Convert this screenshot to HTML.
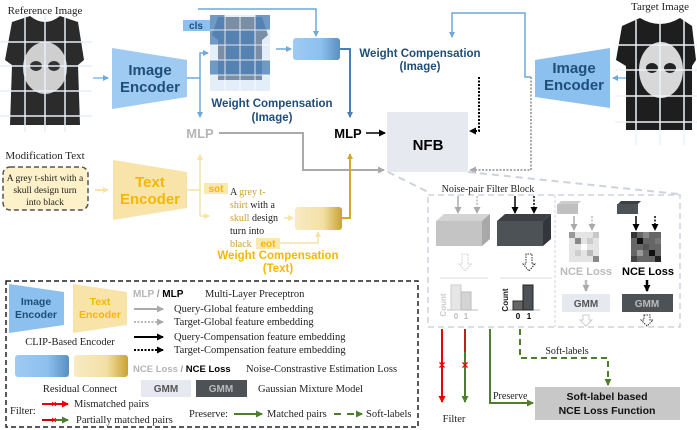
<!DOCTYPE html>
<html><head><meta charset="utf-8"><style>
html,body{margin:0;padding:0;background:#fff}
svg{display:block}
.s{font-family:"Liberation Serif",serif}
.b{font-family:"Liberation Sans",sans-serif;font-weight:bold}
</style></head><body>
<svg width="697" height="430" viewBox="0 0 697 430" xmlns="http://www.w3.org/2000/svg">
<defs>
<marker id="ab" markerWidth="6" markerHeight="6" refX="5" refY="3" orient="auto" markerUnits="userSpaceOnUse"><path d="M0,0L6,3L0,6z" fill="#6fa8dc"/></marker>
<marker id="adb" markerWidth="6" markerHeight="6" refX="5" refY="3" orient="auto" markerUnits="userSpaceOnUse"><path d="M0,0L6,3L0,6z" fill="#4a7fb5"/></marker>
<marker id="ak" markerWidth="7" markerHeight="7" refX="6" refY="3.5" orient="auto" markerUnits="userSpaceOnUse"><path d="M0,0L7,3.5L0,7z" fill="#000"/></marker>
<marker id="ag" markerWidth="7" markerHeight="7" refX="6" refY="3.5" orient="auto" markerUnits="userSpaceOnUse"><path d="M0,0L7,3.5L0,7z" fill="#aaa"/></marker>
<marker id="ay" markerWidth="6" markerHeight="6" refX="5" refY="3" orient="auto" markerUnits="userSpaceOnUse"><path d="M0,0L6,3L0,6z" fill="#f6e3a6"/></marker>
<marker id="ao" markerWidth="6" markerHeight="6" refX="5" refY="3" orient="auto" markerUnits="userSpaceOnUse"><path d="M0,0L6,3L0,6z" fill="#d4a82a"/></marker>
<marker id="ar" markerWidth="7" markerHeight="7" refX="6" refY="3.5" orient="auto" markerUnits="userSpaceOnUse"><path d="M0,0L7,3.5L0,7z" fill="#e00"/></marker>
<marker id="agr" markerWidth="7" markerHeight="7" refX="6" refY="3.5" orient="auto" markerUnits="userSpaceOnUse"><path d="M0,0L7,3.5L0,7z" fill="#4e7d2e"/></marker>
<linearGradient id="gb" x1="0" x2="1"><stop offset="0" stop-color="#9fcbf2"/><stop offset=".6" stop-color="#8cc0ee"/><stop offset="1" stop-color="#5a8fc0"/></linearGradient>
<linearGradient id="gy" x1="0" x2="1"><stop offset="0" stop-color="#f8ebc3"/><stop offset=".6" stop-color="#f3e0a4"/><stop offset="1" stop-color="#c9a232"/></linearGradient>
</defs>

<text x="45" y="14" class="s" font-size="11" text-anchor="middle" fill="#222">Reference Image</text>
<path d="M12,22 L30,16 Q45,28 60,16 L78,22 L84,60 L78,65 L80,125 L10,125 L12,65 L5,60z" fill="#2b2b2b"/>
<ellipse cx="45" cy="68" rx="22" ry="26" fill="#cfcfcf"/>
<ellipse cx="36" cy="66" rx="6" ry="5" fill="#333"/><ellipse cx="54" cy="66" rx="6" ry="5" fill="#333"/>
<g stroke="#e8eef8" stroke-width="1.5">
<line x1="0" y1="42" x2="92" y2="42"/><line x1="0" y1="66" x2="92" y2="66"/><line x1="0" y1="91" x2="92" y2="91"/><line x1="0" y1="116" x2="92" y2="116"/>
<line x1="25" y1="15" x2="25" y2="132"/><line x1="45" y1="15" x2="45" y2="132"/><line x1="65" y1="15" x2="65" y2="132"/>
</g>
<line x1="93" y1="78" x2="108" y2="78" stroke="#9fcbf2" stroke-width="2" marker-end="url(#ab)"/>
<path d="M112,48 L187,60 L187,97 L112,109z" fill="#9fcbf2"/>
<text x="150" y="75" class="b" font-size="15" fill="#1f4e79" text-anchor="middle">Image</text>
<text x="150" y="92" class="b" font-size="15" fill="#1f4e79" text-anchor="middle">Encoder</text>

<path d="M187,78 L200,78" stroke="#6fa8dc" stroke-width="1.5" fill="none"/>
<path d="M200,78 L200,53 L208,53" stroke="#6fa8dc" stroke-width="1.5" fill="none" marker-end="url(#ab)"/>
<path d="M200,78 L200,117" stroke="#6fa8dc" stroke-width="1.5" fill="none" marker-end="url(#ab)"/>
<path d="M198,9 L316,9 L316,36" stroke="#6fa8dc" stroke-width="1.5" fill="none" marker-end="url(#ab)"/>

<rect x="210" y="15" width="60" height="76" fill="#e4eef9"/>
<path d="M218,17 L262,17 L268,35 L262,40 L262,80 L218,80 L218,40 L212,35z" fill="#7a8ea6"/>
<g fill="#4a7fb5" opacity=".75">
<rect x="210" y="15" width="15" height="15"/><rect x="255" y="15" width="15" height="15"/>
<rect x="210" y="30" width="15" height="15"/><rect x="225" y="30" width="30" height="15"/>
<rect x="225" y="45" width="30" height="15"/><rect x="210" y="60" width="60" height="15"/>
</g>
<g stroke="#fff" stroke-width="1" opacity=".8">
<line x1="225" y1="15" x2="225" y2="91"/><line x1="240" y1="15" x2="240" y2="91"/><line x1="255" y1="15" x2="255" y2="91"/>
<line x1="210" y1="30" x2="270" y2="30"/><line x1="210" y1="45" x2="270" y2="45"/><line x1="210" y1="60" x2="270" y2="60"/><line x1="210" y1="75" x2="270" y2="75"/>
</g>
<rect x="183" y="20" width="27" height="11" fill="#8cc0ee"/>
<text x="196" y="29" class="b" font-size="10" fill="#1f4e79" text-anchor="middle">cls</text>
<line x1="276" y1="49" x2="291" y2="49" stroke="#6fa8dc" stroke-width="1.5" marker-end="url(#ab)"/>
<rect x="293" y="38" width="47" height="22" rx="3" fill="url(#gb)"/>
<path d="M340,49 L350,49 L350,117" stroke="#4a7fb5" stroke-width="2" fill="none" marker-end="url(#adb)"/>
<text x="272" y="107" class="b" font-size="11.5" fill="#1f4e79" text-anchor="middle">Weight Compensation</text>
<text x="272" y="121" class="b" font-size="11.5" fill="#1f4e79" text-anchor="middle">(Image)</text>

<text x="200" y="138" class="b" font-size="13" fill="#b5b5b5" text-anchor="middle">MLP</text>
<text x="348" y="138" class="b" font-size="13" fill="#000" text-anchor="middle">MLP</text>
<path d="M219,133 L303,133 L303,170 L384,170" stroke="#aaa" stroke-width="2" fill="none" marker-end="url(#ag)"/>
<line x1="366" y1="133" x2="385" y2="133" stroke="#000" stroke-width="1.5" marker-end="url(#ak)"/>
<rect x="387" y="112" width="81" height="60" fill="#e6e9ef"/>
<text x="428" y="150" class="b" font-size="15" fill="#000" text-anchor="middle">NFB</text>
<path d="M479,77 L479,131 L470,131" stroke="#000" stroke-width="2" stroke-dasharray="2,1.5" fill="none" marker-end="url(#ak)"/>
<path d="M531,77 L531,170 L470,170" stroke="#aaa" stroke-width="2" stroke-dasharray="2,1.5" fill="none" marker-end="url(#ag)"/>
<path d="M531,77 L525,77 L525,13 L452,13 L452,37" stroke="#6fa8dc" stroke-width="1.5" fill="none" marker-end="url(#ab)"/>
<text x="420" y="57" class="b" font-size="11.5" fill="#1f4e79" text-anchor="middle">Weight Compensation</text>
<text x="420" y="70" class="b" font-size="11.5" fill="#1f4e79" text-anchor="middle">(Image)</text>

<path d="M535,60 L610,48 L610,108 L535,97z" fill="#8cc0ee"/>
<text x="574" y="73" class="b" font-size="15" fill="#1f4e79" text-anchor="middle">Image</text>
<text x="574" y="90" class="b" font-size="15" fill="#1f4e79" text-anchor="middle">Encoder</text>
<line x1="627" y1="78" x2="613" y2="78" stroke="#9fcbf2" stroke-width="2" marker-end="url(#ab)"/>
<text x="660" y="10" class="s" font-size="11" text-anchor="middle" fill="#222">Target Image</text>
<path d="M622,26 L640,18 Q660,30 680,18 L692,26 L696,60 L692,66 L692,130 L626,130 L626,66 L616,60z" fill="#1e1e1e"/>
<ellipse cx="661" cy="70" rx="22" ry="28" fill="#d8d8d8"/>
<ellipse cx="652" cy="68" rx="6" ry="5" fill="#222"/><ellipse cx="670" cy="68" rx="6" ry="5" fill="#222"/>
<g stroke="#eef2f8" stroke-width="1.5">
<line x1="615" y1="45" x2="697" y2="45"/><line x1="615" y1="70" x2="697" y2="70"/><line x1="615" y1="96" x2="697" y2="96"/><line x1="615" y1="122" x2="697" y2="122"/>
<line x1="636" y1="20" x2="636" y2="145"/><line x1="660" y1="20" x2="660" y2="145"/><line x1="684" y1="20" x2="684" y2="145"/>
</g>

<text x="45" y="159" class="s" font-size="11" text-anchor="middle" fill="#222">Modification Text</text>
<rect x="3" y="167" width="85" height="43" rx="7" fill="#fdf1c9" stroke="#555" stroke-width="1.5" stroke-dasharray="5,3"/>
<text class="s" font-size="9.5" fill="#222" text-anchor="middle"><tspan x="45" y="181">A grey t-shirt with a</tspan><tspan x="45" y="193">skull design turn</tspan><tspan x="45" y="205">into black</tspan></text>
<line x1="95" y1="190" x2="108" y2="190" stroke="#f6e3a6" stroke-width="2" marker-end="url(#ay)"/>
<path d="M113,160 L187,172 L187,208 L113,220z" fill="#f8e4a8"/>
<text x="150" y="187" class="b" font-size="15" fill="#f5b800" text-anchor="middle">Text</text>
<text x="150" y="204" class="b" font-size="15" fill="#f5b800" text-anchor="middle">Encoder</text>
<path d="M187,190 L200,190" stroke="#f6e3a6" stroke-width="1.5" fill="none"/>
<path d="M200,216 L200,155" stroke="#f6e3a6" stroke-width="1.5" fill="none" marker-end="url(#ay)"/>
<path d="M200,216 L209,216" stroke="#f6e3a6" stroke-width="1.5" fill="none" marker-end="url(#ay)"/>
<rect x="204" y="183" width="24" height="11" fill="#fbe8b0"/>
<text x="216" y="192" class="b" font-size="10" fill="#f5b800" text-anchor="middle">sot</text>
<text class="s" font-size="10" fill="#222"><tspan x="230" y="195">A <tspan fill="#c9a232">grey t-</tspan></tspan><tspan x="230" y="208"><tspan fill="#c9a232">shirt</tspan> with a</tspan><tspan x="230" y="221"><tspan fill="#c9a232">skull</tspan> design</tspan><tspan x="230" y="234">turn into</tspan><tspan x="230" y="247" fill="#c9a232">black</tspan></text>
<rect x="256" y="238" width="24" height="11" fill="#fbe8b0"/>
<text x="268" y="247" class="b" font-size="10" fill="#f5b800" text-anchor="middle">eot</text>
<line x1="284" y1="218" x2="293" y2="218" stroke="#f6e3a6" stroke-width="1.5" marker-end="url(#ay)"/>
<path d="M280,243 L318,243 L318,232" stroke="#f6e3a6" stroke-width="1.5" fill="none" marker-end="url(#ay)"/>
<rect x="295" y="207" width="47" height="23" rx="3" fill="url(#gy)"/>
<path d="M342,218 L350,218 L350,154" stroke="#d4a82a" stroke-width="2" fill="none" marker-end="url(#ao)"/>
<text x="278" y="259" class="b" font-size="11.5" fill="#f5b800" text-anchor="middle">Weight Compensation</text>
<text x="278" y="272" class="b" font-size="11.5" fill="#f5b800" text-anchor="middle">(Text)</text>

<rect x="6" y="281" width="412" height="146" fill="none" stroke="#222" stroke-width="1.5" stroke-dasharray="5,3"/>
<path d="M9,284 L64,292 L64,325 L9,333z" fill="#8cc0ee"/>
<text x="36" y="305" class="b" font-size="10.5" fill="#1f4e79" text-anchor="middle">Image</text>
<text x="36" y="318" class="b" font-size="10.5" fill="#1f4e79" text-anchor="middle">Encoder</text>
<path d="M73,284 L127,292 L127,325 L73,333z" fill="#f8e4a8"/>
<text x="100" y="305" class="b" font-size="10.5" fill="#f5b800" text-anchor="middle">Text</text>
<text x="100" y="318" class="b" font-size="10.5" fill="#f5b800" text-anchor="middle">Encoder</text>
<text x="70" y="345" class="s" font-size="10.5" fill="#222" text-anchor="middle">CLIP-Based Encoder</text>
<rect x="15" y="355" width="54" height="22" rx="3" fill="url(#gb)"/>
<rect x="74" y="355" width="54" height="22" rx="3" fill="url(#gy)"/>
<text x="80" y="392" class="s" font-size="10.5" fill="#222" text-anchor="middle">Residual Connect</text>
<text x="133" y="297" class="b" font-size="10" fill="#b5b5b5">MLP <tspan fill="#999">/</tspan> <tspan fill="#000">MLP</tspan></text>
<text x="205" y="297" class="s" font-size="10.5" fill="#222">Multi-Layer Preceptron</text>
<line x1="134" y1="309" x2="163" y2="309" stroke="#aaa" stroke-width="2" marker-end="url(#ag)"/>
<line x1="134" y1="322" x2="163" y2="322" stroke="#bbb" stroke-width="2" stroke-dasharray="2,1.5" marker-end="url(#ag)"/>
<line x1="134" y1="337" x2="163" y2="337" stroke="#000" stroke-width="2" marker-end="url(#ak)"/>
<line x1="134" y1="350" x2="163" y2="350" stroke="#000" stroke-width="2" stroke-dasharray="2,1.5" marker-end="url(#ak)"/>
<text class="s" font-size="10.5" fill="#222"><tspan x="174" y="312">Query-Global feature embedding</tspan><tspan x="174" y="325">Target-Global feature embedding</tspan><tspan x="174" y="340">Query-Compensation feature embedding</tspan><tspan x="174" y="353">Target-Compensation feature embedding</tspan></text>
<text x="133" y="372" class="b" font-size="9.5" fill="#b5b5b5">NCE Loss <tspan fill="#999">/</tspan> <tspan fill="#000">NCE Loss</tspan></text>
<text x="246" y="372" class="s" font-size="10.5" fill="#222">Noise-Constrastive Estimation Loss</text>
<rect x="141" y="380" width="50" height="17" fill="#e6e9ef"/>
<text x="166" y="392" class="b" font-size="10" fill="#555" text-anchor="middle">GMM</text>
<rect x="196" y="380" width="51" height="17" fill="#4d5257"/>
<text x="221" y="392" class="b" font-size="10" fill="#bbb" text-anchor="middle">GMM</text>
<text x="258" y="392" class="s" font-size="10.5" fill="#222">Gaussian Mixture Model</text>
<text x="10" y="414" class="s" font-size="10.5" fill="#222">Filter:</text>
<line x1="42" y1="404" x2="68" y2="404" stroke="#e00" stroke-width="2" marker-end="url(#ar)"/>
<text x="54" y="407" font-size="9" fill="#e00" text-anchor="middle" class="b">×</text>
<text x="74" y="407" class="s" font-size="10.5" fill="#222">Mismatched pairs</text>
<line x1="42" y1="420" x2="55" y2="420" stroke="#c00" stroke-width="2"/>
<line x1="55" y1="420" x2="68" y2="420" stroke="#4e7d2e" stroke-width="2" marker-end="url(#agr)"/>
<text x="54" y="423" font-size="9" fill="#e00" text-anchor="middle" class="b">×</text>
<text x="76" y="423" class="s" font-size="10.5" fill="#222">Partially matched pairs</text>
<text x="189" y="417" class="s" font-size="10.5" fill="#222">Preserve:</text>
<line x1="234" y1="414" x2="262" y2="414" stroke="#4e7d2e" stroke-width="2" marker-end="url(#agr)"/>
<text x="267" y="417" class="s" font-size="10.5" fill="#222">Matched pairs</text>
<line x1="334" y1="414" x2="362" y2="414" stroke="#4e7d2e" stroke-width="2" stroke-dasharray="7,6" marker-end="url(#agr)"/>
<text x="366" y="417" class="s" font-size="10.5" fill="#222">Soft-labels</text>

<line x1="388" y1="172" x2="430" y2="193" stroke="#cdd3dd" stroke-width="2" stroke-dasharray="7,5"/>
<line x1="468" y1="172" x2="678" y2="194" stroke="#cdd3dd" stroke-width="2" stroke-dasharray="7,5"/>
<rect x="428" y="195" width="252" height="132" fill="none" stroke="#cdd3dd" stroke-width="1.5" stroke-dasharray="6,4"/>
<line x1="555" y1="195" x2="555" y2="327" stroke="#cdd3dd" stroke-width="1" stroke-dasharray="3,2"/>
<text x="488" y="192" class="s" font-size="10" fill="#222" text-anchor="middle">Noise-pair Filter Block</text>
<path d="M436,221 L482,221 L490,214 L444,214z" fill="#d4d4d4"/><rect x="436" y="221" width="46" height="25" fill="#c4c4c4"/><path d="M482,221 L490,214 L490,239 L482,246z" fill="#a8a8a8"/>
<path d="M497,221 L543,221 L551,214 L505,214z" fill="#3c4044"/><rect x="497" y="221" width="46" height="25" fill="#4d5257"/><path d="M543,221 L551,214 L551,239 L543,246z" fill="#33373b"/>
<line x1="458" y1="196" x2="458" y2="213" stroke="#aaa" stroke-width="1.5" marker-end="url(#ag)"/>
<line x1="477" y1="196" x2="477" y2="213" stroke="#bbb" stroke-width="1.5" stroke-dasharray="2,1.5" marker-end="url(#ag)"/>
<line x1="515" y1="196" x2="515" y2="213" stroke="#000" stroke-width="1.5" marker-end="url(#ak)"/>
<line x1="534" y1="196" x2="534" y2="213" stroke="#000" stroke-width="1.5" stroke-dasharray="2,1.5" marker-end="url(#ak)"/>
<path d="M462,254 L462,264 L459,264 L465,271 L471,264 L468,264 L468,254z" fill="#fff" stroke="#ccc" stroke-dasharray="1.5,1"/>
<path d="M526,254 L526,264 L523,264 L529,271 L535,264 L532,264 L532,254z" fill="#fff" stroke="#333" stroke-dasharray="1.5,1"/>
<line x1="440" y1="278" x2="488" y2="278" stroke="#ddd"/><line x1="500" y1="278" x2="552" y2="278" stroke="#ddd"/>
<line x1="447" y1="310" x2="478" y2="310" stroke="#bbb"/><line x1="505" y1="310" x2="540" y2="310" stroke="#bbb"/>
<rect x="451" y="285" width="10" height="25" fill="#e6e6e6" stroke="#ccc"/><rect x="461" y="292" width="10" height="18" fill="#d4d4d4" stroke="#bbb"/>
<rect x="513" y="301" width="10" height="9" fill="#666" stroke="#333"/><rect x="523" y="285" width="10" height="25" fill="#4d5257" stroke="#222"/>
<text x="446" y="305" class="b" font-size="8" fill="#ccc" transform="rotate(-90 446 305)" text-anchor="middle">Count</text>
<text x="508" y="300" class="b" font-size="8" fill="#222" transform="rotate(-90 508 300)" text-anchor="middle">Count</text>
<text x="456" y="319" class="b" font-size="8" fill="#bbb" text-anchor="middle">0</text><text x="466" y="319" class="b" font-size="8" fill="#bbb" text-anchor="middle">1</text>
<text x="518" y="319" class="b" font-size="8" fill="#000" text-anchor="middle">0</text><text x="529" y="319" class="b" font-size="8" fill="#000" text-anchor="middle">1</text>
<path d="M558,204 L578,204 L581,201 L561,201z" fill="#ccc"/><rect x="557" y="204" width="21" height="10" fill="#c0c0c0"/>
<path d="M618,204 L638,204 L641,201 L621,201z" fill="#3c4044"/><rect x="617" y="204" width="21" height="10" fill="#4d5257"/>
<line x1="574" y1="216" x2="574" y2="230" stroke="#aaa" stroke-width="1.5" marker-end="url(#ag)"/>
<line x1="592" y1="216" x2="592" y2="230" stroke="#bbb" stroke-width="1.5" stroke-dasharray="2,1.5" marker-end="url(#ag)"/>
<line x1="636" y1="216" x2="636" y2="230" stroke="#000" stroke-width="1.5" marker-end="url(#ak)"/>
<line x1="655" y1="216" x2="655" y2="230" stroke="#000" stroke-width="1.5" stroke-dasharray="2,1.5" marker-end="url(#ak)"/>
<g>
<rect x="569" y="232" width="30" height="30" fill="#e4e4e4"/>
<rect x="569" y="232" width="6" height="6" fill="#999"/><rect x="575" y="238" width="6" height="6" fill="#888"/><rect x="581" y="244" width="6" height="6" fill="#fff"/><rect x="587" y="250" width="6" height="6" fill="#bbb"/><rect x="593" y="256" width="6" height="6" fill="#888"/>
<rect x="587" y="238" width="6" height="6" fill="#ccc"/><rect x="575" y="250" width="6" height="6" fill="#d0d0d0"/><rect x="593" y="232" width="6" height="6" fill="#c8c8c8"/>
<rect x="631" y="232" width="30" height="30" fill="#666"/>
<rect x="631" y="232" width="6" height="6" fill="#333"/><rect x="637" y="238" width="6" height="6" fill="#111"/><rect x="643" y="244" width="6" height="6" fill="#555"/><rect x="649" y="250" width="6" height="6" fill="#111"/><rect x="655" y="256" width="6" height="6" fill="#222"/>
<rect x="643" y="232" width="6" height="6" fill="#888"/><rect x="637" y="250" width="6" height="6" fill="#999"/><rect x="655" y="238" width="6" height="6" fill="#777"/><rect x="631" y="256" width="6" height="6" fill="#444"/>
</g>
<text x="586" y="275" class="b" font-size="11" fill="#bbb" text-anchor="middle">NCE Loss</text>
<text x="648" y="275" class="b" font-size="11" fill="#000" text-anchor="middle">NCE Loss</text>
<line x1="586" y1="280" x2="586" y2="291" stroke="#bbb" stroke-width="2.5" marker-end="url(#ag)"/>
<line x1="647" y1="280" x2="647" y2="291" stroke="#000" stroke-width="2.5" marker-end="url(#ak)"/>
<rect x="562" y="294" width="48" height="18" fill="#e6e9ef"/>
<text x="586" y="307" class="b" font-size="10" fill="#555" text-anchor="middle">GMM</text>
<rect x="622" y="294" width="51" height="18" fill="#4d5257"/>
<text x="647" y="307" class="b" font-size="10" fill="#bbb" text-anchor="middle">GMM</text>
<path d="M583,315 L583,320 L580,320 L586,326 L592,320 L589,320 L589,315z" fill="#fff" stroke="#ccc"/>
<path d="M644,315 L644,320 L641,320 L647,326 L653,320 L650,320 L650,315z" fill="#fff" stroke="#333" stroke-dasharray="1.5,1"/>

<line x1="442" y1="329" x2="442" y2="402" stroke="#e00" stroke-width="2" marker-end="url(#ar)"/>
<text x="442" y="369" font-size="12" fill="#e00" text-anchor="middle" class="b">×</text>
<line x1="465" y1="329" x2="465" y2="352" stroke="#b22" stroke-width="2"/>
<line x1="465" y1="352" x2="465" y2="402" stroke="#4e7d2e" stroke-width="2" marker-end="url(#agr)"/>
<text x="465" y="369" font-size="12" fill="#e00" text-anchor="middle" class="b">×</text>
<text x="454" y="422" class="s" font-size="10.5" fill="#222" text-anchor="middle">Filter</text>
<path d="M490,329 L490,403 L533,403" stroke="#4e7d2e" stroke-width="2" fill="none" marker-end="url(#agr)"/>
<text x="493" y="399" class="s" font-size="10" fill="#222">Preserve</text>
<path d="M520,329 L520,358 L608,358 L608,385" stroke="#4e7d2e" stroke-width="2" stroke-dasharray="6,4" fill="none" marker-end="url(#agr)"/>
<text x="567" y="354" class="s" font-size="10" fill="#222" text-anchor="middle">Soft-labels</text>
<rect x="535" y="387" width="145" height="33" fill="#c8c8c8"/>
<text x="607" y="400" class="b" font-size="10.5" fill="#111" text-anchor="middle">Soft-label based</text>
<text x="607" y="414" class="b" font-size="10.5" fill="#111" text-anchor="middle">NCE Loss Function</text>
</svg>
</body></html>
